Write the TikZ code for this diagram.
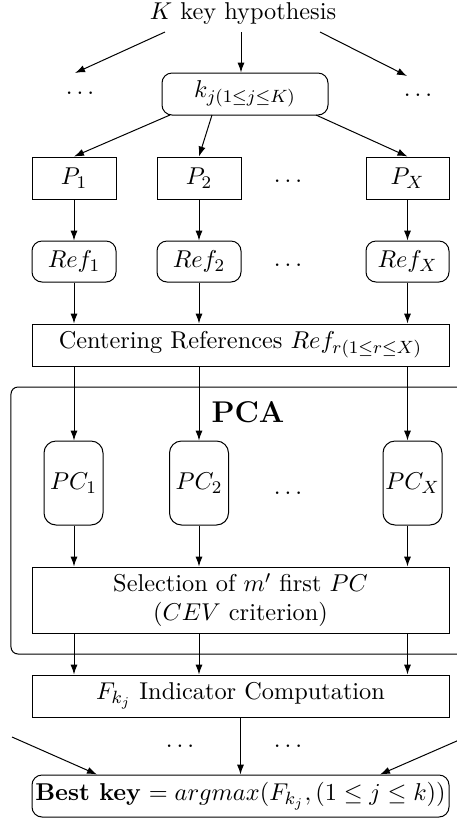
\documentclass[tikz,border=0pt]{standalone}
\usetikzlibrary{arrows.meta}
\newdimen\pxu
\pxu=0.45pt
\tikzset{
  every node/.style={font=\fontsize{10.95}{13}\selectfont, inner sep=0pt},
  arr/.style={-{Latex[length=4.5pt,width=3.2pt]}, line width=0.45pt},
  wbox/.style={draw, line width=0.45pt, minimum height=42*\pxu},
  rbox/.style={wbox, rounded corners=10*\pxu},
  pbox/.style={wbox, minimum width=84*\pxu},
  refbox/.style={rbox, minimum width=84*\pxu, minimum height=41*\pxu},
  pcbox/.style={draw, line width=0.45pt, rounded corners=12*\pxu, minimum width=59*\pxu, minimum height=84*\pxu},
  widebox/.style={wbox, minimum width=417*\pxu},
  dotsnode/.style={}
}
\begin{document}
\begin{tikzpicture}[x=0.45pt, y=-0.45pt]
\useasboundingbox (0,0) rectangle (457,822);

% key hypotheses
\node (top) at (243,14) {$K$ key hypothesis};
\node[dotsnode] (dl) at (80,93) {$\dots$};
\node[dotsnode] (dr) at (418,95) {$\dots$};
\node[rbox, minimum width=166*\pxu] (kj) at (245,94) {$k_{j(1\leq j\leq K)}$};

\coordinate (t1) at (165,32);
\coordinate (t2) at (241,32);
\coordinate (t3) at (320,32);
\coordinate (e1) at (75,73);
\coordinate (e3) at (407,76);
\draw[arr] (t1) -- (e1);
\draw[arr] (t2) -- (kj.north -| t2);
\draw[arr] (t3) -- (e3);

% plaintext groups
\node[pbox] (P1) at (74,178) {$P_1$};
\node[pbox] (P2) at (199,178) {$P_2$};
\node[pbox, minimum width=83*\pxu] (PX) at (407.5,178) {$P_X$};
\node[dotsnode] (dp) at (288,181) {$\dots$};

\coordinate (k1) at (170,115);
\coordinate (k2) at (212,115);
\coordinate (k3) at (316,115);
\draw[arr] (k1) -- (P1.north);
\draw[arr] (k2) -- (P2.north);
\draw[arr] (k3) -- (PX.north);

% references
\node[refbox] (R1) at (74,261.5) {$Ref_1$};
\node[refbox] (R2) at (199,261.5) {$Ref_2$};
\node[refbox, minimum width=83*\pxu] (RX) at (407.5,261.5) {$Ref_X$};
\node[dotsnode] (dref) at (288,265) {$\dots$};
\draw[arr] (P1) -- (R1);
\draw[arr] (P2) -- (R2);
\draw[arr] (PX) -- (RX);

\node[widebox] (cent) at (240.5,345) {Centering References $Ref_{r(1\leq r\leq X)}$};
\draw[arr] (R1) -- (cent.north -| R1);
\draw[arr] (R2) -- (cent.north -| R2);
\draw[arr] (RX) -- (cent.north -| RX);

% PCA block
\draw[line width=0.45pt, rounded corners=7*\pxu] (11,387) rectangle (490,654);
\node[font=\fontsize{13.5}{16}\selectfont\bfseries] (pca) at (248,412) {PCA};

\node[pcbox] (PC1) at (73.5,483) {$PC_1$};
\node[pcbox] (PC2) at (199,483) {$PC_2$};
\node[pcbox] (PCX) at (412.5,483) {$PC_X$};
\node[dotsnode] (dpc) at (288,493) {$\dots$};
\draw[arr] (cent.south -| P1) -- (PC1.north -| P1);
\draw[arr] (cent.south -| P2) -- (PC2.north -| P2);
\draw[arr] (cent.south -| PX) -- (PCX.north -| PX);

\node[widebox, minimum height=66*\pxu, align=center] (sel) at (240.5,600)
  {Selection of $m'$ first $PC$\\($CEV$ criterion)};
\draw[arr] (PC1.south -| P1) -- (sel.north -| P1);
\draw[arr] (PC2.south -| P2) -- (sel.north -| P2);
\draw[arr] (PCX.south -| PX) -- (sel.north -| PX);

% indicator and decision
\node[widebox] (ind) at (240.5,696) {$F_{k_j}$ Indicator Computation};
\draw[arr] (sel.south -| P1) -- (ind.north -| P1);
\draw[arr] (sel.south -| P2) -- (ind.north -| P2);
\draw[arr] (sel.south -| PX) -- (ind.north -| PX);

\node[rbox, minimum width=417*\pxu] (best) at (240.5,796)
  {\textbf{Best key} $= argmax\bigl(F_{k_j},(1\leq j\leq k)\bigr)$};
\node[dotsnode] (db1) at (180,746) {$\dots$};
\node[dotsnode] (db2) at (288,746) {$\dots$};
\coordinate (l0) at (12,737);
\coordinate (r0) at (466,737);
\coordinate (lx) at (97,775);
\coordinate (rx) at (380,775);
\draw[arr] (ind) -- (best);
\draw[arr] (l0) -- (best.north -| lx);
\draw[arr] (r0) -- (best.north -| rx);
\end{tikzpicture}
\end{document}
